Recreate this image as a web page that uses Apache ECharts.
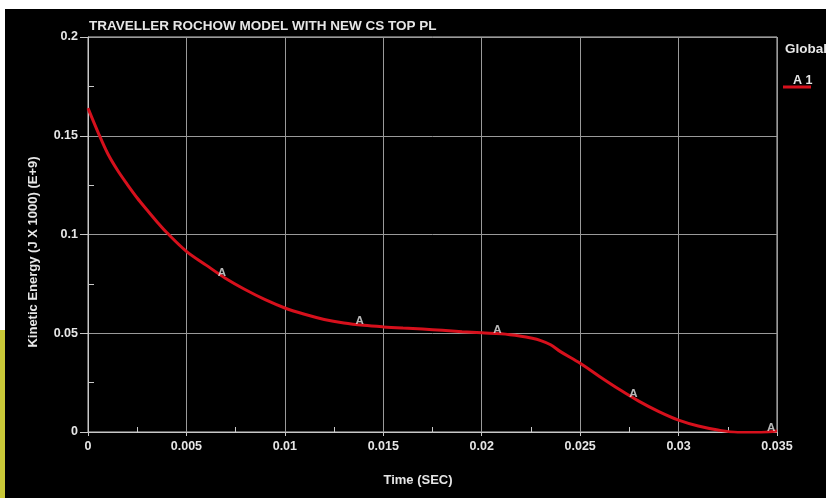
<!DOCTYPE html>
<html><head><meta charset="utf-8">
<script src="https://cdn.jsdelivr.net/npm/echarts@6/dist/echarts.min.js"></script>
<style>html,body{margin:0;padding:0;background:#fff}#c{width:826px;height:498px}</style>
</head><body><div id="c"></div>
<script>
var titleText = 'TRAVELLER ROCHOW MODEL WITH NEW CS TOP PL';
var xName = 'Time (SEC)';
var yName = 'Kinetic Energy (J X 1000) (E+9)';
var legendTitle = 'Global';
var seriesName = 'A 1';
var time = [0, 0.0005, 0.001, 0.0015, 0.002, 0.0025, 0.003, 0.0035, 0.004, 0.005, 0.006, 0.007, 0.008, 0.009, 0.010, 0.011, 0.012, 0.013, 0.014, 0.015, 0.016, 0.017, 0.018, 0.019, 0.020, 0.021, 0.022, 0.0225, 0.023, 0.0235, 0.024, 0.025, 0.026, 0.027, 0.028, 0.029, 0.030, 0.031, 0.032, 0.033, 0.034, 0.035];
var energy = [0.164, 0.152, 0.141, 0.1325, 0.1253, 0.1185, 0.1124, 0.1065, 0.1010, 0.0915, 0.0845, 0.0777, 0.0720, 0.0670, 0.0628, 0.0596, 0.0570, 0.0552, 0.0540, 0.0532, 0.0526, 0.0521, 0.0515, 0.0508, 0.0502, 0.0497, 0.0485, 0.0476, 0.0463, 0.0442, 0.0407, 0.0348, 0.0280, 0.0215, 0.0155, 0.0103, 0.0060, 0.0030, 0.0010, -0.0002, -0.0003, 0.0005];
var markerTime = [0.0068, 0.0138, 0.0208, 0.0277, 0.0347];
var markerEnergy = [0.0788, 0.0542, 0.0498, 0.0172, 0.0002];
var markerText = 'A';

var chart = echarts.init(document.getElementById('c'));
var font = 'Liberation Sans, Arial, sans-serif';
var lineData = time.map(function(t,i){return [t, energy[i]];});
var markData = markerTime.map(function(t,i){return [t, markerEnergy[i]];});
var labelColor = '#e6e6e6';
chart.setOption({
  backgroundColor: '#000',
  animation: false,
  title: {text: titleText, left: 84, top: 14, textStyle: {color: labelColor, fontSize: 13.5, fontWeight: 'bold', fontFamily: font}},
  grid: {left: 88, right: 49, top: 37, bottom: 66, show: true, borderColor: '#c8c8c8', borderWidth: 1},
  xAxis: [{
    type: 'value', min: 0, max: 0.035, interval: 0.005,
    axisLine: {lineStyle: {color:'#c8c8c8'}},
    axisTick: {show: true, inside: true, length: 0, lineStyle:{color:'#c8c8c8'}},
    minorTick: {show: true, splitNumber: 2, length: 5, lineStyle:{color:'#c8c8c8'}},
    axisLabel: {color: labelColor, fontSize: 12.5, fontWeight: 'bold', fontFamily: font, margin: 8},
    splitLine: {show: true, lineStyle: {color:'#9a9a9a', width: 1}}
  },{
    type: 'value', min: 0, max: 0.035, interval: 0.005, position: 'bottom',
    axisLine: {show:false}, axisLabel:{show:false}, splitLine:{show:false},
    axisTick: {show: true, length: 4, lineStyle:{color:'#c8c8c8'}}
  }],
  yAxis: [{
    type: 'value', min: 0, max: 0.2, interval: 0.05,
    axisLine: {show: true, lineStyle: {color:'#c8c8c8'}},
    axisTick: {show: true, inside: true, length: 0, lineStyle:{color:'#c8c8c8'}},
    minorTick: {show: true, splitNumber: 2, length: 6, lineStyle:{color:'#c8c8c8'}},
    axisLabel: {color: labelColor, fontSize: 12.5, fontWeight: 'bold', fontFamily: font, margin: 10},
    splitLine: {show: true, lineStyle: {color:'#9a9a9a', width: 1}}
  },{
    type: 'value', min: 0, max: 0.2, interval: 0.05, position: 'left',
    axisLine: {show:false}, axisLabel:{show:false}, splitLine:{show:false},
    axisTick: {show: true, length: 8, lineStyle:{color:'#c8c8c8'}}
  }],
  series: [{
    name: seriesName, type: 'line', data: lineData, smooth: 0.35, showSymbol: false,
    lineStyle: {color: '#d6101c', width: 3}, z: 3
  },{
    type: 'scatter', data: markData, symbolSize: 1, itemStyle:{color:'rgba(0,0,0,0)'},
    label: {show: true, position: 'inside', offset: [0, -4], formatter: markerText, color: labelColor, fontSize: 11.5, fontWeight: 'bold', fontFamily: font},
    z: 4
  }],
  graphic: [
    {type:'rect', left:0, top:0, shape:{width:826, height:9}, style:{fill:'#fff'}},
    {type:'rect', left:0, top:0, shape:{width:5, height:330}, style:{fill:'#fff'}},
    {type:'rect', left:0, top:330, shape:{width:5, height:168}, style:{fill:'#c9c838'}},
    {type:'text', x: 33, y: 252, rotation: Math.PI/2, style:{text: yName, fill: labelColor, font:'bold 13px ' + font, textAlign:'center', textVerticalAlign:'middle'}},
    {type:'text', x: 418, y: 480, style:{text: xName, fill: labelColor, font:'bold 13px ' + font, textAlign:'center', textVerticalAlign:'middle'}},
    {type:'text', x: 785, y: 49, style:{text: legendTitle, fill: labelColor, font:'bold 13.5px ' + font, textAlign:'left', textVerticalAlign:'middle'}},
    {type:'text', x: 793, y: 81, style:{text: seriesName, fill: labelColor, font:'bold 12.5px ' + font, textAlign:'left', textVerticalAlign:'middle'}},
    {type:'line', shape:{x1:783, y1:87, x2:811, y2:87}, style:{stroke:'#d6101c', lineWidth:3}}
  ]
});
</script></body></html>
